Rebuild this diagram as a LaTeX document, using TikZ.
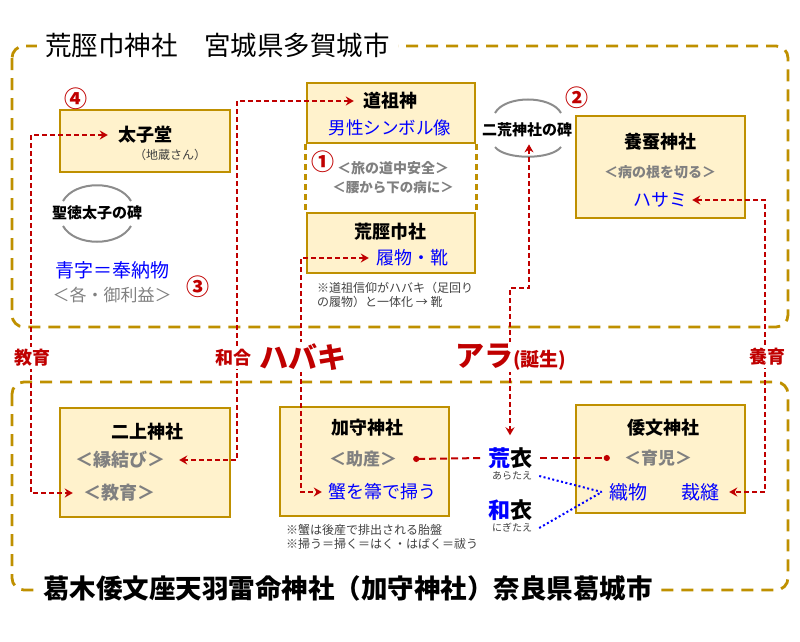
\documentclass[tikz,border=0pt]{standalone}
\usepackage{fontspec}
\setmainfont{Noto Sans CJK JP}
\usetikzlibrary{arrows.meta}
\definecolor{framegold}{HTML}{BF9000}
\definecolor{boxfill}{HTML}{FFF2CC}
\definecolor{markred}{HTML}{C00000}
\definecolor{noteblue}{HTML}{0000FF}
\definecolor{notegray}{HTML}{808080}
\definecolor{stonegray}{HTML}{8C8C8C}
\definecolor{notedark}{HTML}{404040}
\tikzset{
    goldframe/.style={draw=framegold, line width=2.8pt, dash pattern=on 12pt off 8pt, rounded corners=12pt},
    goldside/.style={draw=framegold, line width=2.5pt, dash pattern=on 6pt off 4pt},
    shrinebox/.style={draw=framegold, line width=2.8pt, fill=boxfill, inner sep=0pt},
    maintitle/.style={fill=white, inner xsep=8pt, inner ysep=1pt, font=\fontsize{26.5}{30}\selectfont},
    boxhead/.style={inner sep=2pt, font=\bfseries\fontsize{18}{20}\selectfont},
    bluetext/.style={inner sep=2pt, text=noteblue, font=\fontsize{18}{20}\selectfont},
    graytext/.style={inner sep=2pt, text=notegray, font=\bfseries\fontsize{17}{20}\selectfont},
    smallgray/.style={inner sep=2pt, text=notegray, font=\bfseries\fontsize{14}{16}\selectfont},
    smallnote/.style={inner sep=1pt, text=notedark, align=left, font=\fontsize{12}{14.5}\selectfont},
    numred/.style={inner sep=0pt, text=markred, font=\bfseries\fontsize{23}{25}\selectfont},
    stonetext/.style={inner sep=2pt, font=\bfseries\fontsize{15}{17}\selectfont},
    stonearc/.style={draw=stonegray, line width=2pt},
    robe/.style={inner sep=2pt, font=\bfseries\fontsize{22}{24}\selectfont},
    robekana/.style={inner sep=1pt, text=notedark, font=\fontsize{10}{12}\selectfont},
    linklabel/.style={fill=white, inner sep=2pt, text=markred, font=\bfseries\fontsize{18}{20}\selectfont},
    biglabel/.style={fill=white, inner sep=2pt, text=markred, font=\bfseries\fontsize{29}{32}\selectfont},
    redlink/.style={draw=markred, line width=2pt, dash pattern=on 5pt off 3pt, >={Stealth[length=8pt,width=9pt]}},
    reddot/.style={draw=markred, line width=2pt, dash pattern=on 7pt off 4pt},
    bluedot/.style={draw=noteblue, line width=2pt, dash pattern=on 2pt off 2.5pt}
}
\begin{document}
\begin{tikzpicture}[x=1pt, y=-1pt]
    \useasboundingbox (0,0) rectangle (800,642);

    \draw[goldframe] (12,46) rectangle (788,327);
    \draw[goldframe] (12,382) rectangle (788,590);

    \node[shrinebox, minimum width=170, minimum height=62] (2) at (145,141) {};
    \node[shrinebox, minimum width=168, minimum height=60] (3) at (391,113) {};
    \node[shrinebox, minimum width=168, minimum height=60] (4) at (391,243) {};
    \node[shrinebox, minimum width=169, minimum height=102] (5) at (660.5,167) {};
    \node[shrinebox, minimum width=170, minimum height=109] (6) at (145,462.5) {};
    \node[shrinebox, minimum width=169, minimum height=109] (7) at (364.5,461.5) {};
    \node[shrinebox, minimum width=169, minimum height=108] (8) at (660.5,459) {};

    \draw[goldside] (3.south west) -- (4.north west);
    \draw[goldside] (3.south east) -- (4.north east);

    \draw[stonearc] (63,201) .. controls (75,180) and (119,180) .. (131,201);
    \draw[stonearc] (63,226) .. controls (75,247) and (119,247) .. (131,226);
    \draw[stonearc] (495,113) .. controls (505,95) and (551,95) .. (561,113);
    \draw[stonearc] (495,147) .. controls (505,160) and (551,160) .. (561,147);

    \node[numred] (10) at (76,99) {④};
    \node[boxhead] (11) at (145,135) {太子堂};
    \node[smallnote] (12) at (170,155) {（地蔵さん）};
    \node[stonetext] (13) at (97,213) {聖徳太子の碑};
    \node[bluetext, font=\fontsize{19}{21}\selectfont] (14) at (112,270) {青字＝奉納物};
    \node[graytext, font=\fontsize{17}{20}\selectfont] (15) at (112,295) {＜各・御利益＞};
    \node[numred] (16) at (198,287) {③};

    \node[boxhead] (20) at (390,101) {道祖神};
    \node[bluetext, font=\fontsize{17.5}{20}\selectfont] (21) at (390,128) {男性シンボル像};
    \node[numred] (22) at (323,162) {①};
    \node[smallgray] (23) at (393,168) {＜旅の道中安全＞};
    \node[smallgray, font=\bfseries\fontsize{13.5}{16}\selectfont] (24) at (393,187) {＜腰から下の病に＞};
    \node[boxhead] (25) at (390,232) {荒脛巾社};
    \node[bluetext] (26) at (412,258) {履物・靴};
    \node[smallnote, anchor=west] (27) at (316,295) {※道祖信仰がハバキ（足回り\\の履物）と一体化 → 靴};

    \node[numred] (30) at (577,98) {②};
    \node[stonetext] (31) at (527,130) {二荒神社の碑};
    \node[boxhead] (32) at (660,142) {養蚕神社};
    \node[smallgray] (33) at (660,172) {＜病の根を切る＞};
    \node[bluetext] (34) at (660,200) {ハサミ};

    \node[boxhead] (40) at (147,432) {二上神社};
    \node[graytext, font=\bfseries\fontsize{18}{20}\selectfont] (41) at (120,460) {＜縁結び＞};
    \node[graytext, font=\bfseries\fontsize{18}{20}\selectfont] (42) at (119,493) {＜教育＞};

    \node[boxhead] (43) at (367,428) {加守神社};
    \node[graytext] (44) at (363,459) {＜助産＞};
    \node[bluetext] (45) at (382,492) {蟹を箒で掃う};
    \node[smallnote, anchor=west] (46) at (285,537) {※蟹は後産で排出される胎盤\\※掃う＝掃く＝はく・はばく＝祓う};

    \node[robe] (47) at (510,458) {{\color{noteblue}荒}衣};
    \node[robekana] (48) at (512,476) {あらたえ};
    \node[robe] (49) at (510,510) {{\color{noteblue}和}衣};
    \node[robekana] (50) at (512,528) {にぎたえ};

    \node[boxhead] (51) at (663,428) {倭文神社};
    \node[graytext] (52) at (658,458) {＜育児＞};
    \node[bluetext, font=\fontsize{19}{21}\selectfont] (53) at (628,492) {織物};
    \node[bluetext, font=\fontsize{19}{21}\selectfont] (54) at (700,492) {裁縫};

    \coordinate (b1) at (31,300);
    \coordinate (b2) at (237,300);
    \coordinate (b3) at (301,300);
    \coordinate (b4) at (510,288);
    \coordinate (b5) at (765,300);

    \draw[redlink, <->] ([xshift=-8pt]11.west) -| (b1) |- ([xshift=-8pt]42.west);
    \draw[redlink, <->] ([xshift=-7pt]20.west) -| (b2) |- ([xshift=12pt]41.east);
    \draw[redlink, <->] ([xshift=-5pt]26.west) -| (b3) |- ([xshift=-4pt]45.west);
    \draw[redlink, <->] ([xshift=2pt, yshift=-5pt]31.south) |- (b4) -| ([yshift=10pt]47.north);
    \draw[redlink, <->] ([xshift=3pt]34.east) -| (b5) |- ([xshift=8pt]54.east);

    \draw[reddot, {Circle[length=6pt]}-] ([xshift=14pt]44.east) -- ([xshift=-2pt]47.west);
    \draw[reddot, -{Circle[length=6pt]}] ([xshift=6pt]47.east) -- ([xshift=-12pt]52.west);

    \draw[bluedot] ([xshift=6pt]48.east) -- ([xshift=-5pt]53.west);
    \draw[bluedot] ([xshift=6pt]50.east) -- ([xshift=-5pt]53.west);

    \node[linklabel] (60) at (32,358) {教育};
    \node[linklabel] (61) at (233,358) {和合};
    \node[biglabel] (62) at (303,357) {ハバキ};
    \node[biglabel, anchor=west] (63) at (453,357) {アラ{\fontsize{19}{21}\selectfont (誕生)}};
    \node[linklabel] (64) at (767,357) {養育};

    \node[maintitle, anchor=west] (0) at (37,45) {荒脛巾神社　宮城県多賀城市};
    \node[maintitle, anchor=west, font=\bfseries\fontsize{26.5}{30}\selectfont] (1) at (35,588) {葛木倭文座天羽雷命神社（加守神社）奈良県葛城市};
\end{tikzpicture}
\end{document}
